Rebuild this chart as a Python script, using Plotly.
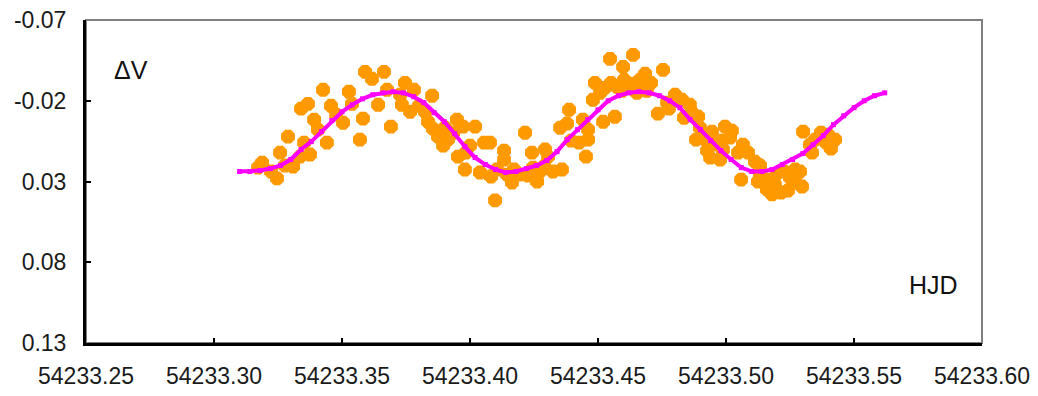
import plotly.graph_objects as go

# Observed V-band differences (orange points)
obs_hjd = [
    54233.3172, 54233.3188, 54233.3223, 54233.3246, 54233.3258, 54233.3277, 54233.3289, 54233.3309,
    54233.3336, 54233.3352, 54233.3375, 54233.3340, 54233.3367, 54233.3391, 54233.3406, 54233.3441,
    54233.3426, 54233.3457, 54233.3477, 54233.3504, 54233.3527, 54233.3539, 54233.3570, 54233.3582,
    54233.3590, 54233.3617, 54233.3664, 54233.3676, 54233.3641, 54233.3691, 54233.3746, 54233.3781,
    54233.3734, 54233.3766, 54233.3801, 54233.3852, 54233.3836, 54233.3855, 54233.3875, 54233.3914,
    54233.3895, 54233.3949, 54233.3973, 54233.4020, 54233.4000, 54233.3984, 54233.3953, 54233.3980,
    54233.4055, 54233.4078, 54233.4039, 54233.4082, 54233.4105, 54233.4098, 54233.4133, 54233.4133,
    54233.4172, 54233.4164, 54233.4227, 54233.4262, 54233.4273, 54233.4289, 54233.4215, 54233.4242,
    54233.4293, 54233.4305, 54233.4324, 54233.4359, 54233.4352, 54233.4379, 54233.4387, 54233.4395,
    54233.4426, 54233.4461, 54233.4441, 54233.4461, 54233.4453, 54233.4480, 54233.4520, 54233.4566,
    54233.4488, 54233.4508, 54233.4551, 54233.4602, 54233.4641, 54233.4684, 54233.4707, 54233.4691,
    54233.4652, 54233.4594, 54233.4547, 54233.4598, 54233.4637, 54233.4754, 54233.4734, 54233.4770,
    54233.4801, 54233.4828, 54233.4777, 54233.4836, 54233.4867, 54233.4891, 54233.4883, 54233.4898,
    54233.4918, 54233.4945, 54233.4996, 54233.5023, 54233.4984, 54233.4926, 54233.4938, 54233.4988,
    54233.4977, 54233.5066, 54233.5086, 54233.5047, 54233.5113, 54233.5133, 54233.5059, 54233.5125,
    54233.5160, 54233.5191, 54233.5199, 54233.5227, 54233.5242, 54233.5270, 54233.5289, 54233.5297,
    54233.5215, 54233.5133, 54233.5180, 54233.5301, 54233.5328, 54233.5336, 54233.5371, 54233.5391,
    54233.5426, 54233.5410, 54233.3727, 54233.3824, 54233.3902, 54233.3934, 54233.4195, 54233.4246,
    54233.4145, 54233.4574, 54233.4664, 54233.4617, 54233.4527, 54233.4859, 54233.4957, 54233.5016,
    54233.5172, 54233.5250, 54233.5152, 54233.5270, 54233.5348, 54233.5398,
]
obs_dv = [
    0.0214, 0.0183, 0.0238, 0.0281, 0.0121, 0.0201, 0.0022, 0.0207,
    0.0146, 0.0059, 0.0133, -0.0151, -0.0181, -0.0083, -0.0021, 0.0059,
    -0.0268, -0.0169, -0.0114, -0.0064, -0.0256, -0.0181, 0.0041, -0.0089,
    -0.0379, -0.0336, -0.0379, -0.0268, -0.0175, -0.0040, -0.0311, -0.0268,
    -0.0175, -0.0132, -0.0169, -0.0231, -0.0070, -0.0027, 0.0022, 0.0041,
    0.0078, -0.0083, -0.0040, -0.0040, 0.0078, 0.0121, 0.0146, 0.0226,
    0.0059, 0.0059, 0.0244, 0.0269, 0.0226, 0.0417, 0.0109, 0.0164,
    0.0226, 0.0306, 0.0263, 0.0300, 0.0238, 0.0207, -0.0002, 0.0121,
    0.0102, 0.0146, 0.0238, 0.0226, -0.0033, -0.0058, -0.0144, 0.0047,
    0.0059, 0.0041, -0.0083, -0.0021, 0.0146, -0.0206, -0.0070, -0.0101,
    -0.0311, -0.0249, -0.0311, -0.0330, -0.0305, -0.0367, -0.0311, -0.0262,
    -0.0249, -0.0262, -0.0459, -0.0410, -0.0484, -0.0391, -0.0120, -0.0188,
    -0.0237, -0.0206, -0.0151, -0.0095, -0.0126, -0.0101, 0.0041, -0.0033,
    0.0041, -0.0009, -0.0040, -0.0015, 0.0047, 0.0109, 0.0152, 0.0102,
    0.0164, 0.0072, 0.0121, 0.0121, 0.0177, 0.0201, 0.0288, 0.0300,
    0.0349, 0.0319, 0.0251, 0.0238, 0.0356, 0.0300, 0.0238, 0.0331,
    0.0368, 0.0257, 0.0380, -0.0009, 0.0072, 0.0121, -0.0002, 0.0059,
    0.0041, 0.0096, -0.0237, -0.0132, -0.0033, -0.0002, 0.0257, 0.0214,
    0.0257, -0.0286, -0.0330, -0.0299, -0.0280, -0.0175, 0.0072, 0.0028,
    0.0288, 0.0275, 0.0306, 0.0226, 0.0041, 0.0010,
]

# Fitted light curve (magenta)
fit_hjd = [
    54233.310, 54233.314, 54233.318, 54233.322, 54233.326, 54233.330, 54233.334, 54233.338,
    54233.342, 54233.346, 54233.350, 54233.354, 54233.358, 54233.362, 54233.366, 54233.370,
    54233.374, 54233.378, 54233.382, 54233.386, 54233.390, 54233.394, 54233.398, 54233.402,
    54233.406, 54233.410, 54233.414, 54233.418, 54233.422, 54233.426, 54233.430, 54233.434,
    54233.438, 54233.442, 54233.446, 54233.450, 54233.454, 54233.458, 54233.462, 54233.466,
    54233.470, 54233.474, 54233.478, 54233.482, 54233.486, 54233.490, 54233.494, 54233.498,
    54233.502, 54233.506, 54233.510, 54233.514, 54233.518, 54233.522, 54233.526, 54233.530,
    54233.534, 54233.538, 54233.542, 54233.546, 54233.550, 54233.554, 54233.558, 54233.562,
]
fit_dv = [
    0.0238, 0.0238, 0.0232, 0.0220, 0.0201, 0.0164, 0.0102, 0.0053,
    -0.0009, -0.0077, -0.0132, -0.0175, -0.0212, -0.0237, -0.0249, -0.0256,
    -0.0249, -0.0225, -0.0188, -0.0126, -0.0070, 0.0004, 0.0084, 0.0152,
    0.0195, 0.0226, 0.0244, 0.0238, 0.0220, 0.0201, 0.0170, 0.0115,
    0.0041, -0.0021, -0.0083, -0.0144, -0.0200, -0.0231, -0.0249, -0.0256,
    -0.0249, -0.0231, -0.0200, -0.0157, -0.0083, -0.0021, 0.0047, 0.0109,
    0.0164, 0.0214, 0.0238, 0.0238, 0.0226, 0.0195, 0.0164, 0.0127,
    0.0072, 0.0016, -0.0052, -0.0107, -0.0157, -0.0200, -0.0231, -0.0249,
]

x_ticks = [54233.25, 54233.30, 54233.35, 54233.40, 54233.45, 54233.50, 54233.55, 54233.60]
x_tick_text = ["54233.25", "54233.30", "54233.35", "54233.40", "54233.45", "54233.50", "54233.55", "54233.60"]
y_ticks = [-0.07, -0.02, 0.03, 0.08, 0.13]
y_tick_text = ["-0.07", "-0.02", "0.03", "0.08", "0.13"]

FONT = "Liberation Sans, Arial, sans-serif"
ORANGE = "#FF9900"
MAGENTA = "#FF00FF"

fig = go.Figure()
fig.add_trace(go.Scatter(
    x=obs_hjd, y=obs_dv, mode="markers",
    marker=dict(symbol="octagon", size=15, color=ORANGE, line=dict(width=0)),
    showlegend=False, hoverinfo="skip",
))
fig.add_trace(go.Scatter(
    x=fit_hjd, y=fit_dv, mode="lines+markers",
    line=dict(color=MAGENTA, width=4),
    marker=dict(symbol="square", size=5, color=MAGENTA, line=dict(width=0)),
    showlegend=False, hoverinfo="skip",
))

fig.update_layout(
    width=1038, height=396,
    margin=dict(l=86, r=56, t=20, b=53, autoexpand=False),
    paper_bgcolor="white", plot_bgcolor="white",
    font=dict(family=FONT, size=23, color="#1a1a1a"),
    shapes=[dict(type="rect", xref="paper", yref="paper", x0=0, y0=0, x1=1, y1=1,
                 line=dict(color="#808080", width=2), layer="below")],
    annotations=[
        dict(text="ΔV", xref="paper", yref="paper", x=0.05, y=0.845,
             xanchor="center", yanchor="middle", showarrow=False,
             font=dict(family=FONT, size=25, color="#111")),
        dict(text="HJD", xref="paper", yref="paper", x=0.946, y=0.18,
             xanchor="center", yanchor="middle", showarrow=False,
             font=dict(family=FONT, size=25, color="#111")),
    ],
)
fig.update_xaxes(
    range=[54233.25, 54233.60], tickvals=x_ticks, ticktext=x_tick_text,
    showgrid=False, zeroline=False, showline=True, linecolor="black", linewidth=3,
    ticks="inside", ticklen=5, tickwidth=2, tickcolor="black",
    ticklabelstandoff=10, automargin=False,
)
fig.update_yaxes(
    range=[0.13, -0.07], tickvals=y_ticks, ticktext=y_tick_text,
    showgrid=False, zeroline=False, showline=True, linecolor="black", linewidth=3,
    ticks="inside", ticklen=5, tickwidth=2, tickcolor="black",
    ticklabelstandoff=12, automargin=False,
)

fig.write_html("out.html")
